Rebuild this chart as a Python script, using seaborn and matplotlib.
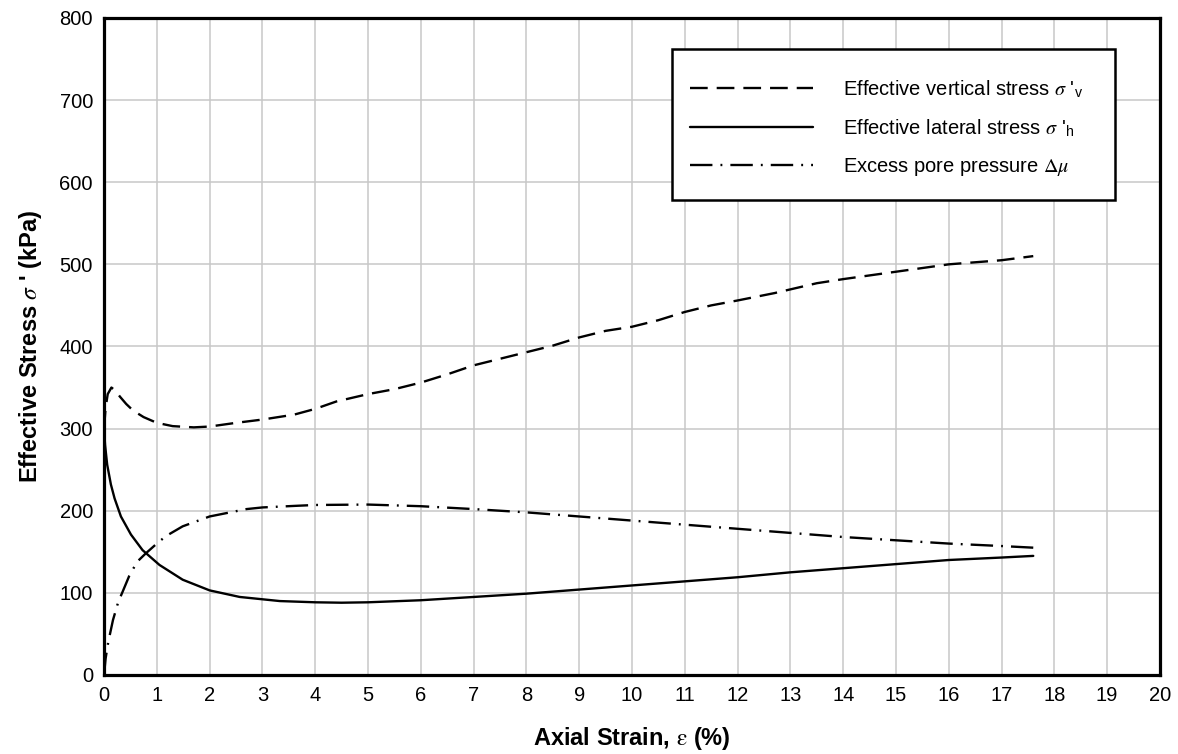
import numpy as np
import pandas as pd
import matplotlib
matplotlib.use("Agg")
import matplotlib.pyplot as plt
from matplotlib.patches import Rectangle
import seaborn as sns

# Effective vertical stress (dashed)
sv_strain = [0, 0.03, 0.07, 0.14, 0.22, 0.3, 0.42, 0.55, 0.75, 1.0, 1.3, 1.7, 2.0, 2.5, 3.0, 3.6, 4.0,
             4.4, 5.0, 5.5, 6.0, 6.5, 7.0, 7.5, 8.0, 8.5, 9.0, 9.5, 10.0, 10.5, 11.0, 11.5, 12.0, 12.7,
             13.5, 14.0, 15.0, 16.0, 17.0, 17.6]
sv_stress = [300, 325, 342, 350, 346, 339, 330, 322, 314, 307, 303, 301.5, 302.5, 307, 311, 317, 324,
             333, 342, 348, 356, 366, 377, 385, 393, 401, 411, 419, 424, 432, 442, 450, 456, 465,
             477, 482, 491, 500, 505, 510]

# Effective lateral stress (solid)
sh_strain = [0, 0.02, 0.06, 0.13, 0.2, 0.32, 0.51, 0.73, 1.05, 1.49, 2.0, 2.57, 3.33, 4.0, 4.5, 5.0,
             6.0, 7.0, 8.0, 9.0, 10.0, 11.0, 12.0, 13.0, 14.0, 15.0, 16.0, 17.0, 17.6]
sh_stress = [300, 280, 256, 232, 215, 193, 171, 152, 134, 116, 103, 95, 90, 88.5, 88, 88.5,
             91, 95, 99, 104, 109, 114, 119, 125, 130, 135, 140, 143, 145]

# Excess pore pressure (dash-dot)
du_strain = [0, 0.03, 0.08, 0.17, 0.27, 0.35, 0.48, 0.63, 0.79, 1.0, 1.17, 1.49, 2.0, 2.7, 3.0, 3.65,
             4.0, 5.0, 6.0, 7.0, 8.0, 9.0, 10.0, 11.0, 12.0, 13.0, 14.0, 15.0, 16.0, 17.0, 17.6]
du_stress = [0, 20, 40, 67, 89, 101, 121, 138, 148, 160, 169, 181, 193, 202, 204, 206,
             207, 207.5, 205.5, 202, 198, 193, 188, 183, 178, 173, 168, 164, 160, 157, 155]

labels = [r"Effective vertical stress $\sigma$ '$_\mathregular{v}$",
          r"Effective lateral stress $\sigma$ '$_\mathregular{h}$",
          r"Excess pore pressure $\Delta\mu$"]

sns.set_theme(style="white")
plt.rcParams['font.family'] = ['Liberation Sans', 'DejaVu Sans']
plt.rcParams['mathtext.fontset'] = 'stix'
plt.rcParams['text.color'] = 'black'
plt.rcParams['axes.labelcolor'] = 'black'

df = pd.concat([
    pd.DataFrame({"strain": sv_strain, "stress": sv_stress, "series": labels[0]}),
    pd.DataFrame({"strain": sh_strain, "stress": sh_stress, "series": labels[1]}),
    pd.DataFrame({"strain": du_strain, "stress": du_stress, "series": labels[2]}),
])

fig = plt.figure(figsize=(11.78, 7.54), dpi=100)
ax = fig.add_axes([0.0883, 0.1048, 0.8964, 0.8714])

dash_styles = {labels[0]: (7.5, 3.8), labels[1]: "", labels[2]: (9.5, 3.4, 0.8, 3.4)}
sns.lineplot(data=df, x="strain", y="stress", hue="series", style="series",
             palette=["black"] * 3, dashes=dash_styles, sort=False, estimator=None,
             linewidth=1.7, ax=ax)

ax.set_xlim(0, 20)
ax.set_ylim(0, 800)
ax.set_xticks(range(0, 21))
ax.set_yticks(range(0, 801, 100))
ax.grid(True, color="#c8c8c8", linewidth=1.1)
ax.tick_params(axis="both", length=0, labelsize=14.5, colors="black", pad=8)
for s in ax.spines.values():
    s.set_linewidth(2.3)
    s.set_color("black")

ax.set_xlabel(r"Axial Strain, $\mathrm{\varepsilon}$ (%)", fontsize=17, fontweight="bold", labelpad=14)
ax.set_ylabel(r"Effective Stress $\sigma$ ' (kPa)", fontsize=17, fontweight="bold", labelpad=11)

# legend frame (drawn as a box in axes coordinates)
box = Rectangle((0.538, 0.723), 0.957 - 0.538, 0.953 - 0.723, transform=ax.transAxes,
                facecolor="white", edgecolor="black", linewidth=1.8, zorder=5)
ax.add_patch(box)

leg = ax.legend(loc="center left", bbox_to_anchor=(0.555, 0.8326), fontsize=14.5, frameon=False,
                handlelength=6.1, handletextpad=1.5, borderpad=0, labelspacing=0.85,
                borderaxespad=0)
leg.set_zorder(6)

fig.savefig("out.png", dpi=100)
